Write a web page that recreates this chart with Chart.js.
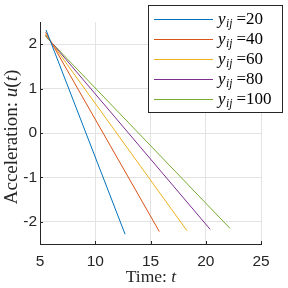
<!DOCTYPE html>
<html><head><meta charset="utf-8">
<script src="https://cdn.jsdelivr.net/npm/chart.js@4/dist/chart.umd.min.js"></script>
<style>html,body{margin:0;padding:0;background:#fff;}canvas{display:block;}</style>
</head><body>
<canvas id="c" width="288" height="288"></canvas>
<script>
const seriesLabels = ['20', '40', '60', '80', '100'];
const seriesColors = ['#0072BD', '#D95319', '#EDB120', '#7E2F8E', '#77AC30'];
const tStart = [5.55, 5.5, 5.5, 5.5, 5.5];
const uStart = [2.32, 2.27, 2.22, 2.2, 2.18];
const tEnd = [12.7, 15.8, 18.3, 20.4, 22.2];
const uEnd = [-2.28, -2.22, -2.2, -2.17, -2.15];
const xTicks = [5, 10, 15, 20, 25];
const yTicks = [-2, -1, 0, 1, 2];

const datasets = seriesLabels.map((lab, i) => ({
  label: 'y_ij =' + lab,
  data: [{x: tStart[i], y: uStart[i]}, {x: tEnd[i], y: uEnd[i]}],
  borderColor: seriesColors[i],
  backgroundColor: seriesColors[i],
  borderWidth: 1,
  pointRadius: 0,
  showLine: true,
  tension: 0
}));

const AX = '#262626';
const GRID = '#e3e3e3';
const SERIF = '"Liberation Serif", "DejaVu Serif", serif';
const SANS = '"Liberation Sans", Arial, sans-serif';

const decor = {
  id: 'decor',
  afterDraw(chart) {
    const ctx = chart.ctx, ca = chart.chartArea;
    const xs = chart.scales.x, ys = chart.scales.y;
    ctx.save();
    // inward ticks
    ctx.strokeStyle = AX; ctx.lineWidth = 1;
    xTicks.forEach(v => { const px = Math.round(xs.getPixelForValue(v)) + 0.5;
      ctx.beginPath(); ctx.moveTo(px, ca.bottom); ctx.lineTo(px, ca.bottom - 3); ctx.stroke(); });
    yTicks.forEach(v => { const py = Math.round(ys.getPixelForValue(v)) + 0.5;
      ctx.beginPath(); ctx.moveTo(ca.left, py); ctx.lineTo(ca.left + 3, py); ctx.stroke(); });
    // axis titles
    ctx.fillStyle = AX; ctx.textBaseline = 'alphabetic';
    const drawRuns = (runs, cx, cy) => {
      let w = 0;
      runs.forEach(r => { ctx.font = r.font; w += ctx.measureText(r.text).width; });
      let x = cx - w / 2;
      runs.forEach(r => { ctx.font = r.font; ctx.fillText(r.text, x, cy + (r.dy || 0)); x += ctx.measureText(r.text).width; });
    };
    ctx.textAlign = 'left';
    const N1 = '17.5px ' + SERIF, I1 = 'italic 17.5px ' + SERIF;
    drawRuns([{text: 'Time: ', font: N1}, {text: 't', font: I1}], 151, 282);
    const N2 = '19px ' + SERIF, I2 = 'italic 19px ' + SERIF;
    ctx.save();
    ctx.translate(17, 137);
    ctx.rotate(-Math.PI / 2);
    drawRuns([{text: 'Acceleration: ', font: N2}, {text: 'u', font: I2}, {text: '(', font: N2}, {text: 't', font: I2}, {text: ')', font: N2}], 0, 0);
    ctx.restore();
    // legend
    const lx = 148.5, ly = 5.5, lw = 134, lh = 107;
    ctx.fillStyle = '#fff'; ctx.fillRect(lx, ly, lw, lh);
    ctx.strokeStyle = AX; ctx.lineWidth = 1; ctx.strokeRect(lx, ly, lw, lh);
    chart.data.datasets.forEach((ds, i) => {
      const yy = 19.5 + i * 20;
      ctx.strokeStyle = ds.borderColor; ctx.lineWidth = 1;
      ctx.beginPath(); ctx.moveTo(154, yy); ctx.lineTo(213, yy); ctx.stroke();
      ctx.fillStyle = '#000';
      let x = 218; const base = yy + 4;
      ctx.font = 'italic 17px ' + SERIF; ctx.fillText('y', x, base); x += ctx.measureText('y').width + 0.5;
      ctx.font = 'italic 11.5px ' + SERIF; ctx.fillText('ij', x, base + 3); x += ctx.measureText('ij').width + 4;
      ctx.font = '17px ' + SERIF; ctx.fillText('=' + seriesLabels[i], x, base);
    });
    ctx.restore();
  }
};

new Chart(document.getElementById('c'), {
  type: 'scatter',
  data: { datasets },
  options: {
    responsive: false,
    animation: false,
    devicePixelRatio: 1,
    layout: { padding: { top: 22, right: 27, left: 0, bottom: 0 } },
    plugins: { legend: { display: false }, tooltip: { enabled: false } },
    scales: {
      x: {
        type: 'linear', min: 5, max: 25,
        afterBuildTicks: s => { s.ticks = xTicks.map(v => ({value: v})); },
        afterFit: s => { s.height = 44; },
        grid: { color: GRID, lineWidth: 1, drawTicks: false },
        border: { color: AX, width: 1 },
        ticks: { color: AX, font: { family: SANS, size: 15.5 }, padding: 8, maxRotation: 0 }
      },
      y: {
        type: 'linear', min: -2.5, max: 2.5,
        afterBuildTicks: s => { s.ticks = yTicks.map(v => ({value: v})); },
        afterFit: s => { s.width = 40; },
        grid: { color: GRID, lineWidth: 1, drawTicks: false },
        border: { color: AX, width: 1 },
        ticks: { color: AX, font: { family: SANS, size: 15.5 }, padding: 3 }
      }
    }
  },
  plugins: [decor]
});
</script>
</body></html>
